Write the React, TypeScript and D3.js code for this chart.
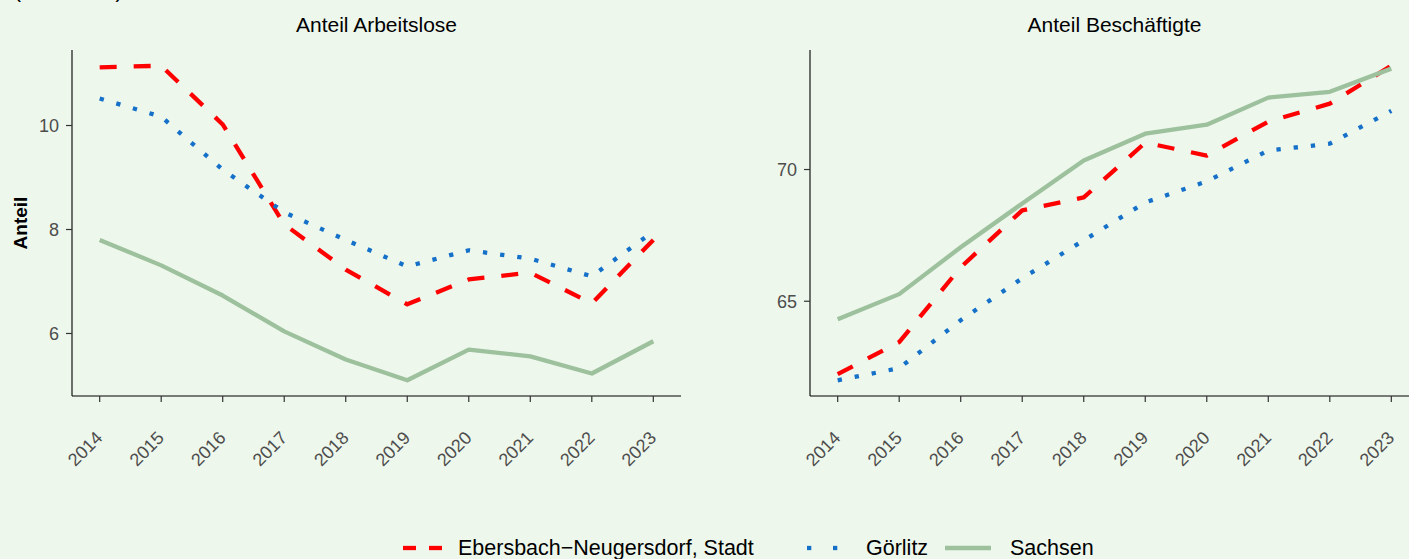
import React from "react";
import * as d3 from "d3";

const years = [2014, 2015, 2016, 2017, 2018, 2019, 2020, 2021, 2022, 2023];
const seriesNames = ["Ebersbach\u2212Neugersdorf, Stadt", "Görlitz", "Sachsen"];
const panelTitles = ["Anteil Arbeitslose", "Anteil Beschäftigte"];

const arbEbersbach = [11.12, 11.15, 10.02, 8.1, 7.23, 6.56, 7.04, 7.17, 6.58, 7.8];
const arbGoerlitz = [10.52, 10.17, 9.15, 8.33, 7.8, 7.29, 7.6, 7.44, 7.1, 7.96];
const arbSachsen = [7.8, 7.31, 6.73, 6.04, 5.5, 5.1, 5.69, 5.56, 5.23, 5.85];

const besEbersbach = [62.23, 63.45, 66.29, 68.45, 68.94, 71.02, 70.53, 71.82, 72.5, 73.94];
const besGoerlitz = [62.0, 62.46, 64.28, 65.87, 67.31, 68.75, 69.55, 70.72, 70.98, 72.23];
const besSachsen = [64.32, 65.27, 67.05, 68.71, 70.34, 71.36, 71.7, 72.73, 72.95, 73.83];

const arbTicks = [6, 8, 10];
const besTicks = [65, 70];

const W = 1409;
const H = 559;
const BG = "#EDF7EC";
const FONT = "'Liberation Sans', Arial, Helvetica, sans-serif";
const colors = ["#FF0000", "#1470C8", "#9DC09D"];
const dashes = ["17 17", "4.3 13", null];
const LW = 4.3;

type PanelProps = {
  left: number;
  right: number;
  top: number;
  bottom: number;
  data: number[][];
  ticks: number[];
  title: string;
};

function Panel({ left, right, top, bottom, data, ticks, title }: PanelProps) {
  const all = data.flat();
  const mn = d3.min(all)!;
  const mx = d3.max(all)!;
  const pad = (mx - mn) * 0.05;
  const y = d3.scaleLinear().domain([mn - pad, mx + pad]).range([bottom, top]);
  const x = d3
    .scaleLinear()
    .domain([years[0] - 0.45, years[years.length - 1] + 0.45])
    .range([left, right]);
  const line = d3
    .line<number>()
    .x((_, i) => x(years[i]))
    .y((d) => y(d));
  return (
    <g>
      <text
        x={(left + right) / 2}
        y={top - 18}
        textAnchor="middle"
        fontSize={21}
        fill="#000"
      >
        {title}
      </text>
      {data.map((s, k) => (
        <path
          key={k}
          d={line(s) || ""}
          fill="none"
          stroke={colors[k]}
          strokeWidth={LW}
          strokeDasharray={dashes[k] || undefined}
          strokeLinejoin="round"
          strokeLinecap="butt"
        />
      ))}
      <line x1={left} x2={left} y1={top} y2={bottom} stroke="#000" strokeWidth={1.1} />
      <line x1={left} x2={right} y1={bottom} y2={bottom} stroke="#000" strokeWidth={1.1} />
      {ticks.map((t) => (
        <g key={t}>
          <line x1={left - 6} x2={left} y1={y(t)} y2={y(t)} stroke="#333" strokeWidth={1.2} />
          <text
            x={left - 13}
            y={y(t)}
            dy="0.36em"
            textAnchor="end"
            fontSize={18}
            fill="#4D4D4D"
          >
            {t}
          </text>
        </g>
      ))}
      {years.map((yr) => (
        <g key={yr}>
          <line x1={x(yr)} x2={x(yr)} y1={bottom} y2={bottom + 6} stroke="#333" strokeWidth={1.2} />
          <text
            transform={`translate(${x(yr) + 4},${bottom + 43}) rotate(-45)`}
            textAnchor="end"
            fontSize={18}
            fill="#4D4D4D"
          >
            {yr}
          </text>
        </g>
      ))}
    </g>
  );
}

export default function App() {
  const legendItems = [
    { key0: 403, text: 458 },
    { key0: 806, text: 866 },
    { key0: 945, text: 1010 },
  ];
  const ly = 548;
  return (
    <svg
      width={W}
      height={H}
      style={{ position: "absolute", left: 0, top: 0, background: BG, fontFamily: FONT }}
    >
      <rect x={0} y={0} width={W} height={H} fill={BG} />
      <text x={14} y={-2} fontSize={21} fill="#000">
        (in Prozent)
      </text>
      <Panel
        left={72}
        right={681}
        top={50}
        bottom={396}
        data={[arbEbersbach, arbGoerlitz, arbSachsen]}
        ticks={arbTicks}
        title={panelTitles[0]}
      />
      <Panel
        left={810}
        right={1419}
        top={50}
        bottom={396}
        data={[besEbersbach, besGoerlitz, besSachsen]}
        ticks={besTicks}
        title={panelTitles[1]}
      />
      <text
        transform="translate(27,223) rotate(-90)"
        textAnchor="middle"
        fontSize={19}
        fontWeight="bold"
        fill="#000"
      >
        Anteil
      </text>
      {legendItems.map((it, k) => (
        <g key={k}>
          {k === 0 && (
            <>
              <line x1={it.key0} x2={it.key0 + 13} y1={ly} y2={ly} stroke={colors[0]} strokeWidth={LW} />
              <line x1={it.key0 + 26} x2={it.key0 + 39} y1={ly} y2={ly} stroke={colors[0]} strokeWidth={LW} />
            </>
          )}
          {k === 1 && (
            <>
              <line x1={it.key0 + 1} x2={it.key0 + 5.3} y1={ly} y2={ly} stroke={colors[1]} strokeWidth={LW} />
              <line x1={it.key0 + 27} x2={it.key0 + 31.3} y1={ly} y2={ly} stroke={colors[1]} strokeWidth={LW} />
            </>
          )}
          {k === 2 && (
            <line x1={it.key0} x2={it.key0 + 46} y1={ly} y2={ly} stroke={colors[2]} strokeWidth={LW} />
          )}
          <text x={it.text} y={555} fontSize={21.5} fill="#000">
            {seriesNames[k]}
          </text>
        </g>
      ))}
    </svg>
  );
}
